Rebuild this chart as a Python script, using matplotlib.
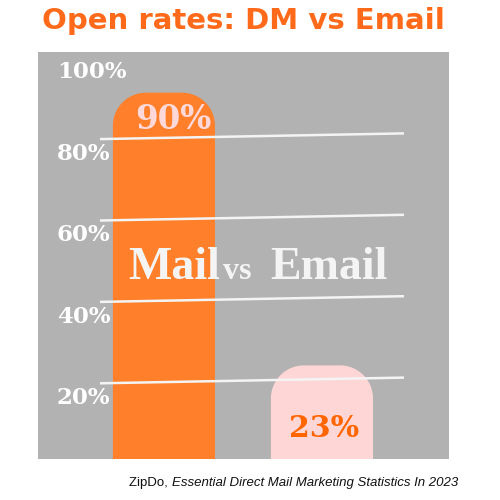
import numpy as np
import matplotlib
matplotlib.use("Agg")
import matplotlib.pyplot as plt

# ---- data ----
categories = ["Mail", "Email"]
values = [90, 23]
value_labels = ["90%", "23%"]
tick_values = [100, 80, 60, 40, 20]
tick_labels = ["100%", "80%", "60%", "40%", "20%"]
grid_values = [80, 60, 40, 20]
title = "Open rates: DM vs Email"
source_plain = "ZipDo, "
source_italic = "Essential Direct Mail Marketing Statistics In 2023"

# ---- style ----
GRAY = "#B2B2B2"
ORANGE = "#FF7F2A"
PINK = "#FFD6D6"
TITLE_ORANGE = "#FF6A1A"
LABEL_ORANGE = "#FF6600"
WHITE = "#F4F4F4"

fig = plt.figure(figsize=(5, 5), dpi=100)
fig.patch.set_facecolor("white")
ax = fig.add_axes([0.076, 0.082, 0.822, 0.814])
ax.set_facecolor(GRAY)
for s in ax.spines.values():
    s.set_visible(False)
ax.set_xticks([])
ax.set_yticks([])
ax.set_xlim(-0.797, 1.804)
ax.set_ylim(0, 100)

# pixel scales (for rounded tops)
px_per_x = 158.0
px_per_y = 4.07
r_px = 33
rx = r_px / px_per_x
ry = r_px / px_per_y
bar_w = 0.646

bar_colors = [ORANGE, PINK]
for i, (v, c) in enumerate(zip(values, bar_colors)):
    x0 = i - bar_w / 2
    x1 = i + bar_w / 2
    t1 = np.linspace(np.pi, np.pi / 2, 30)
    t2 = np.linspace(np.pi / 2, 0, 30)
    xs = [x0, x0]
    ys = [0, v - ry]
    xs += list((x0 + rx) + rx * np.cos(t1))
    ys += list((v - ry) + ry * np.sin(t1))
    xs += list((x1 - rx) + rx * np.cos(t2))
    ys += list((v - ry) + ry * np.sin(t2))
    xs += [x1, x1]
    ys += [v - ry, 0]
    ax.fill(xs, ys, color=c, lw=0, zorder=2)

# slanted white grid lines
gx0 = (100 - 164) / px_per_x
gx1 = (404 - 164) / px_per_x
for g in grid_values:
    ax.plot([gx0, gx1], [g - 1.4, g], color=WHITE, lw=1.8, zorder=3,
            solid_capstyle="butt")

# tick labels
tx = (57 - 164) / px_per_x
for tv, tl in zip(tick_values, tick_labels):
    ax.text(tx, tv - 5, tl, ha="left", va="center", color="white",
            fontsize=16.5, fontweight="bold", family="DejaVu Serif", zorder=4)

# value labels
ax.text(0.06, 83.3, value_labels[0], ha="center", va="center", color="#FFD9D9",
        fontsize=23.5, fontweight="bold", family="DejaVu Serif", zorder=4)
ax.text(1.016, 7.4, value_labels[1], ha="center", va="center", color=LABEL_ORANGE,
        fontsize=21.5, fontweight="bold", family="DejaVu Serif", zorder=4)

# big "Mail vs Email"
base = 44.2
ax.text(-0.228, base, categories[0], ha="left", va="baseline", color=WHITE,
        fontsize=33, fontweight="bold", family="Liberation Serif", zorder=4)
ax.text(0.375, base, "vs", ha="left", va="baseline", color=WHITE,
        fontsize=23, fontweight="bold", family="Liberation Serif", zorder=4)
ax.text(0.671, base, categories[1], ha="left", va="baseline", color=WHITE,
        fontsize=33, fontweight="bold", family="Liberation Serif", zorder=4)

# title
fig.text(0.487, 0.958, title, ha="center", va="center", color=TITLE_ORANGE,
         fontsize=21, fontweight="bold", family="DejaVu Sans")

# source
src_font = ["Liberation Sans", "DejaVu Sans"]
t_it = fig.text(0.916, 0.034, source_italic, ha="right", va="center",
                color="#111111", fontsize=9.5, style="italic", family=src_font)
fig.canvas.draw()
bb = t_it.get_window_extent(renderer=fig.canvas.get_renderer())
left = bb.x0 / fig.bbox.width
fig.text(left, 0.034, source_plain, ha="right", va="center",
         color="#111111", fontsize=9.5, family=src_font)

fig.savefig("out.png", dpi=100)
